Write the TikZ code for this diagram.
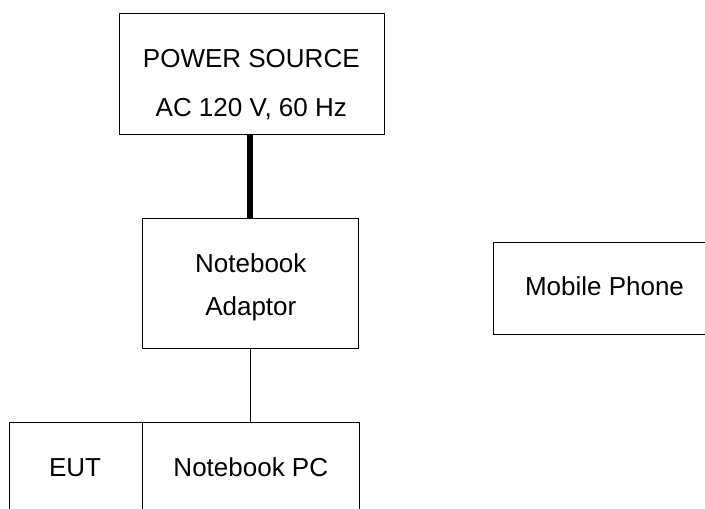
\documentclass[tikz,border=0pt]{standalone}
\usepackage{fontspec}
\setmainfont{Liberation Sans}
\usepackage{tikz}

\begin{document}
\begin{tikzpicture}[x=1pt, y=-1pt,
        % Define a style for the boxes and their texts
        box/.style={draw, line width=1pt, inner sep=0pt},
        txt/.style={anchor=base, inner sep=0pt, font=\fontsize{26}{30}\selectfont},
        cable/.style={line width=1pt},
        power cable/.style={line width=5.5pt}]

        \useasboundingbox (0,0) rectangle (705,509);
        \clip (0,0) rectangle (705,509);

        % 1. The boxes
        \node[box, minimum width=265pt, minimum height=121pt] (power) at (251.5,73.5) {};
        \node[box, minimum width=216pt, minimum height=130pt] (adaptor) at (250,283) {};
        \node[box, minimum width=222pt, minimum height=92pt] (phone) at (604,288) {};

        % 2. EUT and notebook (cut off at the bottom)
        \node[box, minimum width=133pt, minimum height=92pt] (eut) at (75.5,468) {};
        \node[box, minimum width=217pt, minimum height=92pt] (pc) at (250.5,468) {};

        % 3. The texts, placed on their baselines
        \node[txt] (power1) at (251.3,67.3) {POWER SOURCE};
        \node[txt] (power2) at (251.3,116) {AC 120 V, 60 Hz};
        \node[txt] (adaptor1) at (250.8,272.3) {Notebook};
        \node[txt] (adaptor2) at (250.8,315.7) {Adaptor};
        \node[txt] (phone1) at (604.5,295.7) {Mobile Phone};
        \node[txt] (eut1) at (75,476.7) {EUT};
        \node[txt] (pc1) at (250.8,476.7) {Notebook PC};

        % 4. The cables
        \draw[power cable] (adaptor.north |- power.south) -- (adaptor.north);
        \draw[cable] (adaptor.south) -- (adaptor.south |- pc.north);

    \end{tikzpicture}
\end{document}
